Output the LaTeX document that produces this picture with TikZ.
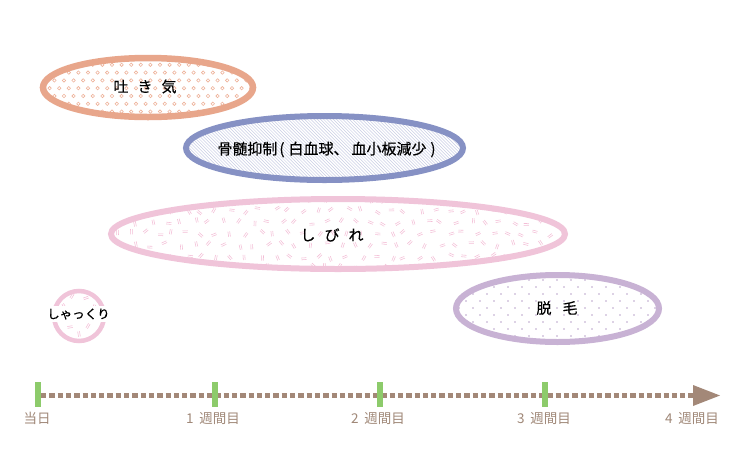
\documentclass[tikz,border=0pt]{standalone}
\usepackage{fontspec}
\setmainfont{Noto Sans CJK JP}
\newfontfamily\etfont[FakeBold=0.35]{Noto Sans CJK JP}
\definecolor{csalmon}{HTML}{E8A68B}
\definecolor{csalmonl}{HTML}{EEB29A}
\definecolor{cblue}{HTML}{8691C4}
\definecolor{cbluel}{HTML}{C9CDE5}
\definecolor{cpink}{HTML}{F0C4D9}
\definecolor{cpinkm}{HTML}{F4BDD6}
\definecolor{cpurple}{HTML}{C8B2D4}
\definecolor{cpurpled}{HTML}{BCA4CB}
\definecolor{cbrown}{HTML}{A38878}
\definecolor{cgreen}{HTML}{8DCB6B}
\definecolor{clabel}{HTML}{A08878}
\tikzset{
  ring/.style={line width=#1},
  etext/.style={font=\etfont\fontsize{15}{17}\selectfont, text=black, inner sep=0pt},
  tlabel/.style={font=\fontsize{13.5}{15}\selectfont, text=clabel, inner sep=0pt},
  tickline/.style={draw=cgreen, line width=5.5pt},
  eqmark/.style={cpinkm, line width=0.55pt},
}
\begin{document}
\begin{tikzpicture}[x=1pt,y=-1pt]
\useasboundingbox (0,0) rectangle (740,475);
\fill[white] (0,0) rectangle (740,475);

% ---------- 吐き気 ----------
\begin{scope}
\clip (148,87.5) ellipse [x radius=105pt, y radius=29.5pt];
\foreach \j in {0,...,8} {
  \foreach \i in {0,...,23} {
    \pgfmathsetmacro\xx{40+\i*9.6+mod(\j,2)*4.8}
    \pgfmathsetmacro\yy{57+\j*7.8}
    \draw[csalmonl, line width=0.6pt] (\xx,\yy) circle[radius=1.7pt];
  }}
\end{scope}
\draw[csalmon, ring=6.5pt] (148,87.5) ellipse [x radius=105pt, y radius=29.5pt];
\node[etext] (nausea) at (145,86.5) {吐\hspace{9pt}き\hspace{9pt}気};

% ---------- 骨髄抑制 ----------
\begin{scope}
\clip (324.5,148) ellipse [x radius=138.5pt, y radius=32pt];
\foreach \k in {0,...,135} {
  \pgfmathsetmacro\xx{100+\k*3.2}
  \draw[cbluel, line width=0.5pt] (\xx,110) -- ++(80,80);
}
\end{scope}
\draw[cblue, ring=6pt] (324.5,148) ellipse [x radius=138.5pt, y radius=32pt];
\node[etext] (marrow) at (326.5,149.5) {骨髄抑制\hspace{2pt}(\hspace{4pt}白血球、\hspace{3pt}血小板減少\hspace{4pt})};

% ---------- しびれ ----------
\pgfmathsetseed{11}
\begin{scope}
\clip (338,234) ellipse [x radius=227pt, y radius=35pt];
\foreach \j in {0,...,6} {
  \foreach \i in {0,...,32} {
    \pgfmathsetmacro\xx{108+\i*14.5+mod(\j,2)*7.2+rand*3}
    \pgfmathsetmacro\yy{199+\j*11.5+rand*2.5}
    \pgfmathsetmacro\aa{rnd*180}
    \begin{scope}[shift={(\xx,\yy)}, rotate=\aa]
      \draw[eqmark] (-2.6,-0.9) -- (2.6,-0.9) (-2.6,0.9) -- (2.6,0.9);
    \end{scope}
  }}
\end{scope}
\draw[cpink, ring=6pt] (338,234) ellipse [x radius=227pt, y radius=35pt];
\node[etext] (numb) at (332,235) {し\hspace{9pt}び\hspace{9pt}れ};

% ---------- しゃっくり ----------
\begin{scope}
\clip (79,316) circle[radius=25pt];
\foreach \xx/\yy/\aa in {72/296/60, 86/298/20, 64/306/120, 94/307/70, 70/327/10, 88/326/60, 79/334/100}{
  \begin{scope}[shift={(\xx,\yy)}, rotate=\aa]
    \draw[eqmark] (-2.6,-0.9) -- (2.6,-0.9) (-2.6,0.9) -- (2.6,0.9);
  \end{scope}
}
\end{scope}
\draw[cpink, ring=4.5pt] (79,316) circle[radius=25pt];
\node[etext, font=\etfont\fontsize{12.5}{14}\selectfont, fill=white, inner ysep=2pt, inner xsep=0.5pt] (hiccup) at (78.5,314) {しゃっくり};

% ---------- 脱毛 ----------
\begin{scope}
\clip (557.5,308.5) ellipse [x radius=101.5pt, y radius=33.5pt];
\foreach \j in {0,...,10} {
  \foreach \i in {0,...,15} {
    \pgfmathsetmacro\xx{452+\i*14+mod(\j,2)*7}
    \pgfmathsetmacro\yy{273+\j*7}
    \fill[cpurpled] (\xx,\yy) circle[radius=0.9pt];
  }}
\end{scope}
\draw[cpurple, ring=6pt] (557.5,308.5) ellipse [x radius=101.5pt, y radius=33.5pt];
\node[etext] (hair) at (557,308) {脱\hspace{11pt}毛};

% ---------- timeline ----------
\coordinate (tstart) at (41,395.5);
\coordinate (tend) at (694,395.5);
\coordinate (tip) at (720,395.5);
\coordinate (tup) at (693,385);
\coordinate (tdn) at (693,406);
\draw[cbrown, line width=5pt, dash pattern=on 5.3pt off 3pt] (tstart) -- (tend);
\fill[cbrown] (tup) -- (tip) -- (tdn) -- cycle;

\coordinate (t0a) at (38,382); \coordinate (t0b) at (38,407);
\coordinate (t1a) at (215,382); \coordinate (t1b) at (215,407);
\coordinate (t2a) at (380,382); \coordinate (t2b) at (380,407);
\coordinate (t3a) at (545,382); \coordinate (t3b) at (545,407);
\draw[tickline] (t0a) -- (t0b);
\draw[tickline] (t1a) -- (t1b);
\draw[tickline] (t2a) -- (t2b);
\draw[tickline] (t3a) -- (t3b);

\node[tlabel] (l0) at (37,418.5) {当日};
\node[tlabel] (l1) at (213,418.5) {1\hspace{6pt}週間目};
\node[tlabel] (l2) at (378,418.5) {2\hspace{6pt}週間目};
\node[tlabel] (l3) at (544,418.5) {3\hspace{6pt}週間目};
\node[tlabel] (l4) at (692,418.5) {4\hspace{6pt}週間目};
\end{tikzpicture}
\end{document}
